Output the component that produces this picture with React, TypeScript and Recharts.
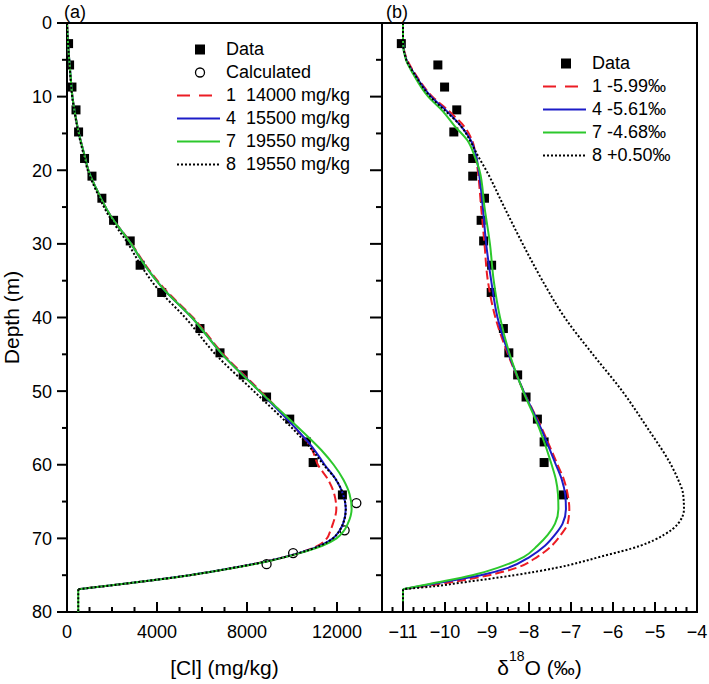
import { ScatterChart, Scatter, XAxis, YAxis, ReferenceArea, Legend } from 'recharts'

const FONT = '"Liberation Sans", Arial, Helvetica, sans-serif'
const RED = '#ec1c24'
const BLUE = '#1c1cc8'
const GREEN = '#2cc82c'

// sampled depths (m), same boreholes in both panels
const sampleDepth = [2.8, 5.7, 8.7, 11.8, 14.8, 18.4, 20.8, 23.8, 26.8, 29.6, 32.9, 36.6, 41.5, 44.8, 47.8, 50.8, 53.8, 56.9, 59.7, 64.1]
const clMeasured = [70, 115, 220, 400, 515, 780, 1110, 1550, 2070, 2810, 3250, 4210, 5910, 6800, 7830, 8870, 9900, 10640, 10940, 12240]
const o18Measured = [-11.04, -10.17, -10.01, -9.72, -9.79, -9.34, -9.34, -9.06, -9.14, -9.08, -8.89, -8.9, -8.61, -8.48, -8.27, -8.07, -7.8, -7.64, -7.64, -7.18]

// calculated chloride points
const calcDepth = [65.2, 68.9, 72.0, 73.5]
const clCalc = [12860, 12340, 10050, 8870]

// modelled chloride profiles (down to the base of the clay)
const clDepth = [0, 3, 5, 8, 10, 12, 15, 18, 20, 23, 26, 30, 33, 36, 40, 45, 50, 55, 58, 60, 62, 64, 66, 68, 69, 70, 71, 72, 73, 74, 75, 76, 76.9]
const clRun1 = [0, 50, 100, 180, 240, 340, 530, 780, 950, 1380, 1900, 2870, 3520, 4300, 5600, 6950, 8600, 10150, 10900, 11150, 11600, 11880, 11970, 11820, 11700, 11550, 11150, 10300, 9050, 7400, 5450, 3000, 500]
const clRun4 = [0, 50, 100, 180, 240, 340, 530, 780, 950, 1380, 1900, 2850, 3480, 4250, 5550, 6900, 8550, 10150, 11000, 11450, 11950, 12270, 12390, 12270, 12100, 11820, 11250, 10300, 9050, 7400, 5450, 3000, 500]
const clRun7 = [0, 50, 100, 180, 240, 340, 530, 780, 950, 1380, 1900, 2850, 3480, 4250, 5550, 6900, 8550, 10300, 11300, 11850, 12280, 12560, 12650, 12480, 12300, 11980, 11350, 10350, 9100, 7450, 5450, 3000, 500]
const clRun8 = [0, 50, 100, 170, 230, 330, 510, 750, 920, 1330, 1820, 2720, 3300, 4000, 5250, 6600, 8300, 10000, 10900, 11400, 11950, 12270, 12390, 12270, 12100, 11820, 11250, 10300, 9050, 7400, 5450, 3000, 500]

// modelled d18O profiles
const o18Depth = [0, 2.5, 5, 7, 10, 12, 14, 16, 18, 20, 25, 30, 35, 40, 45, 50, 55, 60, 62, 64, 66, 68, 69.5, 71, 72.5, 74, 75, 76, 76.5, 76.9]
const o18Run1 = [-11, -11, -10.9, -10.7, -10.3, -9.9, -9.55, -9.35, -9.27, -9.22, -9.14, -9.06, -8.98, -8.8, -8.5, -8.13, -7.7, -7.32, -7.17, -7.08, -7.04, -7.08, -7.24, -7.46, -7.8, -8.3, -8.95, -9.9, -10.5, -11]
const o18Run4 = [-11, -11, -10.92, -10.72, -10.33, -9.95, -9.62, -9.38, -9.26, -9.2, -9.1, -9.02, -8.9, -8.75, -8.48, -8.13, -7.72, -7.36, -7.22, -7.14, -7.12, -7.2, -7.38, -7.62, -7.98, -8.5, -9.15, -10.1, -10.6, -11]
const o18Run7 = [-11, -11, -10.93, -10.75, -10.4, -10.05, -9.77, -9.46, -9.3, -9.18, -9.06, -8.93, -8.84, -8.69, -8.46, -8.14, -7.76, -7.46, -7.36, -7.31, -7.3, -7.38, -7.55, -7.8, -8.12, -8.75, -9.35, -10.2, -10.65, -11]
const o18Run8 = [-11, -11, -10.92, -10.72, -10.35, -9.98, -9.62, -9.4, -9.22, -9.02, -8.59, -8.15, -7.68, -7.15, -6.48, -5.78, -5.18, -4.62, -4.45, -4.33, -4.31, -4.45, -4.78, -5.35, -6.3, -7.35, -8.35, -9.6, -10.25, -11]

// constant boundary value below the clay
const tailDepth = [76.9, 80]
const clTail = [500, 500]
const o18Tail = [-11, -11]

// axis ticks
const depthTicks = [0, 5, 10, 15, 20, 25, 30, 35, 40, 45, 50, 55, 60, 65, 70, 75, 80]
const clTicks = [0, 1000, 2000, 3000, 4000, 5000, 6000, 7000, 8000, 9000, 10000, 11000, 12000, 13000, 14000]
const o18Ticks = Array.from({ length: 30 }, (_, i) => -11.25 + i * 0.25)

const legendA = ['Data', 'Calculated', '1  14000 mg/kg', '4  15500 mg/kg', '7  19550 mg/kg', '8  19550 mg/kg']
const legendB = ['Data', '1 -5.99\u2030', '4 -5.61\u2030', '7 -4.68\u2030', '8 +0.50\u2030']

const toPts = (xs: number[], ys: number[]) => xs.map((v, i) => ({ x: v, y: ys[i] }))

// plot box edges inside each chart
const A_LEFT = 67
const A_RIGHT = 382

const noDot = () => <g />
const squareDot = (p: any) => <rect x={p.cx - 4.5} y={p.cy - 4.5} width={9} height={9} fill="#000" />
const circleDot = (p: any) => <circle cx={p.cx} cy={p.cy} r={4.5} fill="none" stroke="#000" strokeWidth={1.3} />

const dashed = { stroke: RED, strokeWidth: 2, strokeDasharray: '9 4' }
const solidBlue = { stroke: BLUE, strokeWidth: 2 }
const solidGreen = { stroke: GREEN, strokeWidth: 2 }
const dotted = { stroke: '#000', strokeWidth: 2, strokeDasharray: '2 2' }

function DepthTick({ x, y, payload }: any) {
	const major = payload.value % 10 === 0
	return (
		<g>
			<line x1={x} x2={x - (major ? 10 : 5)} y1={y} y2={y} stroke="#000" strokeWidth={2} />
			<line x1={A_RIGHT} x2={A_RIGHT - (major ? 12 : 6)} y1={y} y2={y} stroke="#000" strokeWidth={2} />
			{major && (
				<text x={x - 15} y={y} dy="0.36em" textAnchor="end" fontSize={18} fontFamily={FONT} fill="#000">
					{payload.value}
				</text>
			)}
		</g>
	)
}

function RightTick({ x, y, payload }: any) {
	const major = payload.value % 10 === 0
	return <line x1={x} x2={x - (major ? 10 : 5)} y1={y} y2={y} stroke="#000" strokeWidth={2} />
}

function ClTick({ x, y, payload }: any) {
	const major = payload.value % 4000 === 0
	return (
		<g>
			<line x1={x} x2={x} y1={y} y2={y - (major ? 10 : 5)} stroke="#000" strokeWidth={2} />
			{major && (
				<text x={x} y={y + 26} textAnchor="middle" fontSize={18} fontFamily={FONT} fill="#000">
					{payload.value}
				</text>
			)}
		</g>
	)
}

function O18Tick({ x, y, payload }: any) {
	const major = Number.isInteger(payload.value)
	return (
		<g>
			<line x1={x} x2={x} y1={y} y2={y - (major ? 10 : 5)} stroke="#000" strokeWidth={2} />
			{major && (
				<text x={x} y={y + 26} textAnchor="middle" fontSize={18} fontFamily={FONT} fill="#000">
					{String(payload.value).replace('-', '\u2212')}
				</text>
			)}
		</g>
	)
}

function DepthTitle({ viewBox }: any) {
	const cy = viewBox.y + viewBox.height / 2
	return (
		<text x={11} y={cy} transform={`rotate(-90 11 ${cy})`} textAnchor="middle" dominantBaseline="central" fontSize={21} fontFamily={FONT} fill="#000">
			Depth (m)
		</text>
	)
}

function ClTitle({ viewBox }: any) {
	return (
		<text x={viewBox.x + viewBox.width / 2} y={675} textAnchor="middle" fontSize={21} fontFamily={FONT} fill="#000">
			[Cl] (mg/kg)
		</text>
	)
}

function O18Title({ viewBox }: any) {
	return (
		<text x={viewBox.x + viewBox.width / 2} y={675} textAnchor="middle" fontSize={21} fontFamily={FONT} fill="#000">
			{'δ'}<tspan fontSize={14} dy={-14}>18</tspan><tspan dy={14}>{'O (‰)'}</tspan>
		</text>
	)
}

function Tag({ viewBox, text, dx }: any) {
	return (
		<text x={viewBox.x + dx} y={viewBox.y - 5} fontSize={18} fontFamily={FONT} fill="#000">
			{text}
		</text>
	)
}

type Mark = 'square' | 'circle' | 'red' | 'blue' | 'green' | 'dotted'

function LegendMark({ kind }: { kind: Mark }) {
	return (
		<svg width={46} height={23} style={{ display: 'block' }}>
			{kind === 'square' && <rect x={19} y={6.5} width={10} height={10} fill="#000" />}
			{kind === 'circle' && <circle cx={24} cy={11.5} r={4.5} fill="none" stroke="#000" strokeWidth={1.3} />}
			{kind === 'red' && <line x1={1} x2={37} y1={11.5} y2={11.5} stroke={RED} strokeWidth={2} strokeDasharray="13 9" />}
			{kind === 'blue' && <line x1={1} x2={44} y1={11.5} y2={11.5} stroke={BLUE} strokeWidth={2} />}
			{kind === 'green' && <line x1={1} x2={44} y1={11.5} y2={11.5} stroke={GREEN} strokeWidth={2} />}
			{kind === 'dotted' && <line x1={1} x2={44} y1={11.5} y2={11.5} stroke="#000" strokeWidth={2} strokeDasharray="2 2" />}
		</svg>
	)
}

function LegendBox({ labels, marks }: { labels: string[]; marks: Mark[] }) {
	return (
		<div style={{ fontFamily: FONT, fontSize: 18, color: '#000' }}>
			{labels.map((t, i) => (
				<div key={t} style={{ display: 'flex', alignItems: 'center', height: 23 }}>
					<LegendMark kind={marks[i]} />
					<span style={{ marginLeft: 4, whiteSpace: 'pre', lineHeight: '23px' }}>{t}</span>
				</div>
			))}
		</div>
	)
}

export default function App() {
	return (
		<div style={{ position: 'absolute', left: 0, top: 0, width: 709, height: 684, background: '#fff', fontFamily: FONT }}>
			{/* (a) chloride */}
			<div style={{ position: 'absolute', left: 0, top: 0 }}>
				<ScatterChart width={A_RIGHT + 2} height={684} margin={{ top: 23, right: 2, bottom: 12, left: 0 }}>
					<XAxis
						type="number"
						dataKey="x"
						domain={[0, 14000]}
						ticks={clTicks}
						interval={0}
						height={60}
						tickSize={0}
						tickMargin={0}
						axisLine={false}
						tickLine={false}
						tick={<ClTick />}
						label={<ClTitle />}
						allowDataOverflow
					/>
					<YAxis
						type="number"
						dataKey="y"
						domain={[0, 80]}
						reversed
						ticks={depthTicks}
						interval={0}
						width={A_LEFT}
						tickSize={0}
						tickMargin={0}
						axisLine={false}
						tickLine={false}
						tick={<DepthTick />}
						label={<DepthTitle />}
						allowDataOverflow
					/>
					<Scatter data={toPts(clMeasured, sampleDepth)} shape={squareDot} isAnimationActive={false} />
					<Scatter data={toPts(clCalc, calcDepth)} shape={circleDot} isAnimationActive={false} />
					<Scatter data={toPts(clRun1, clDepth)} fill={RED} line={dashed} lineJointType="monotoneY" shape={noDot} isAnimationActive={false} />
					<Scatter data={toPts(clRun4, clDepth)} fill={BLUE} line={solidBlue} lineJointType="monotoneY" shape={noDot} isAnimationActive={false} />
					<Scatter data={toPts(clRun7, clDepth)} fill={GREEN} line={solidGreen} lineJointType="monotoneY" shape={noDot} isAnimationActive={false} />
					<Scatter data={toPts(clRun8, clDepth)} fill="#000" line={dotted} lineJointType="monotoneY" shape={noDot} isAnimationActive={false} />
					<Scatter data={toPts(clTail, tailDepth)} fill={GREEN} line={solidGreen} shape={noDot} isAnimationActive={false} />
					<Scatter data={toPts(clTail, tailDepth)} fill="#000" line={dotted} shape={noDot} isAnimationActive={false} />
					<ReferenceArea x1={0} x2={14000} y1={0} y2={80} fill="none" stroke="#000" strokeWidth={2} label={<Tag text="(a)" dx={-3} />} />
					<Legend
						layout="vertical"
						align="center"
						verticalAlign="middle"
						wrapperStyle={{ left: 176, top: 38 }}
						content={() => <LegendBox labels={legendA} marks={['square', 'circle', 'red', 'blue', 'green', 'dotted']} />}
					/>
				</ScatterChart>
			</div>

			{/* (b) oxygen isotopes */}
			<div style={{ position: 'absolute', left: 372, top: 0 }}>
				<ScatterChart width={337} height={684} margin={{ top: 23, right: 12, bottom: 12, left: 10 }}>
					<XAxis
						type="number"
						dataKey="x"
						domain={[-11.5, -4]}
						ticks={o18Ticks}
						interval={0}
						height={60}
						tickSize={0}
						tickMargin={0}
						axisLine={false}
						tickLine={false}
						tick={<O18Tick />}
						label={<O18Title />}
						allowDataOverflow
					/>
					<YAxis
						type="number"
						dataKey="y"
						orientation="right"
						domain={[0, 80]}
						reversed
						ticks={depthTicks}
						interval={0}
						width={0}
						tickSize={0}
						tickMargin={0}
						axisLine={false}
						tickLine={false}
						tick={<RightTick />}
						allowDataOverflow
					/>
					<Scatter data={toPts(o18Measured, sampleDepth)} shape={squareDot} isAnimationActive={false} />
					<Scatter data={toPts(o18Run1, o18Depth)} fill={RED} line={dashed} lineJointType="monotoneY" shape={noDot} isAnimationActive={false} />
					<Scatter data={toPts(o18Run4, o18Depth)} fill={BLUE} line={solidBlue} lineJointType="monotoneY" shape={noDot} isAnimationActive={false} />
					<Scatter data={toPts(o18Run7, o18Depth)} fill={GREEN} line={solidGreen} lineJointType="monotoneY" shape={noDot} isAnimationActive={false} />
					<Scatter data={toPts(o18Run8, o18Depth)} fill="#000" line={dotted} lineJointType="monotoneY" shape={noDot} isAnimationActive={false} />
					<Scatter data={toPts(o18Tail, tailDepth)} fill={GREEN} line={solidGreen} shape={noDot} isAnimationActive={false} />
					<Scatter data={toPts(o18Tail, tailDepth)} fill="#000" line={dotted} shape={noDot} isAnimationActive={false} />
					<ReferenceArea x1={-11.5} x2={-4} y1={0} y2={80} fill="none" stroke="#000" strokeWidth={2} label={<Tag text="(b)" dx={4} />} />
					<Legend
						layout="vertical"
						align="center"
						verticalAlign="middle"
						wrapperStyle={{ left: 170, top: 52 }}
						content={() => <LegendBox labels={legendB} marks={['square', 'red', 'blue', 'green', 'dotted']} />}
					/>
				</ScatterChart>
			</div>
		</div>
	)
}
